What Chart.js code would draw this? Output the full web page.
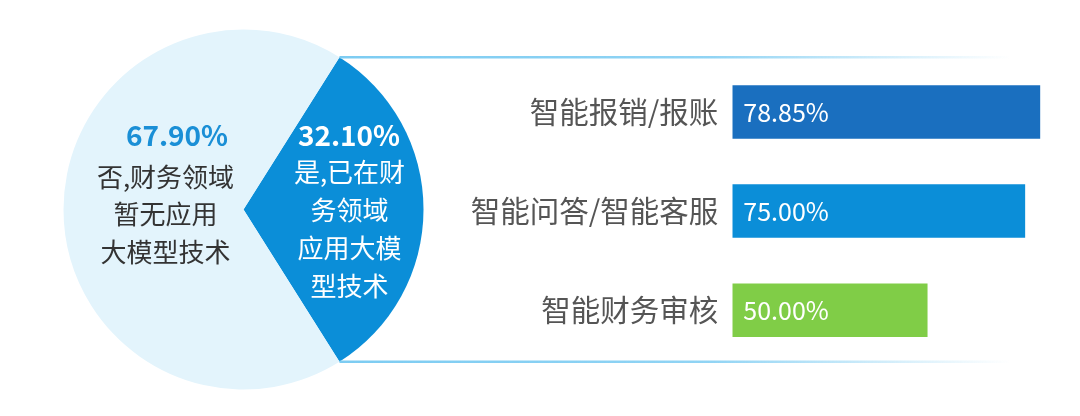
<!DOCTYPE html>
<html>
<head>
<meta charset="utf-8">
<script src="https://cdn.jsdelivr.net/npm/chart.js@4.4.1/dist/chart.umd.min.js"></script>
<style>
  html, body { margin: 0; padding: 0; background: #fff; }
  #wrap { position: relative; width: 1080px; height: 416px; overflow: hidden; }
  #pieChart { position: absolute; left: 0; top: 0; }
  #barChart { position: absolute; left: 440px; top: 0; }
</style>
</head>
<body>
<div id="wrap">
  <canvas id="pieChart" width="1080" height="416"></canvas>
  <canvas id="barChart" width="640" height="416"></canvas>
</div>
<script>
'use strict';

// pie: large models already used in finance?
var pieLabels = ["是,已在财务领域应用大模型技术", "否,财务领域暂无应用大模型技术"];
var pieValues = [32.10, 67.90];
var pieLines = [
  ["是,已在财", "务领域", "应用大模", "型技术"],
  ["否,财务领域", "暂无应用", "大模型技术"]
];
var pieColors = ["#0b8ed8", "#e3f4fc"];

// bars: where it is used
var barLabels = ["智能报销/报账", "智能问答/智能客服", "智能财务审核"];
var barValues = [78.85, 75.00, 50.00];
var barColors = ["#1a6fbf", "#0b8ed8", "#80cd47"];

var FONT = '"Noto Sans CJK SC", "Noto Sans", sans-serif';

function pct(v) { return v.toFixed(2) + '%'; }

// connector lines + texts inside the slices
var pieText = {
  id: 'pieText',
  afterDatasetsDraw: function(chart) {
    var ctx = chart.ctx;
    var arc = chart.getDatasetMeta(0).data[0];
    var cx = arc.x, cy = arc.y, r = arc.outerRadius;

    var corners = [arc.startAngle, arc.endAngle].map(function(a) {
      return [cx + r * Math.cos(a), cy + r * Math.sin(a)];
    });
    var grad = ctx.createLinearGradient(corners[0][0], 0, 1010, 0);
    grad.addColorStop(0, 'rgba(125,204,242,1)');
    grad.addColorStop(0.55, 'rgba(125,204,242,0.85)');
    grad.addColorStop(1, 'rgba(125,204,242,0)');
    ctx.save();
    ctx.strokeStyle = grad;
    ctx.lineWidth = 2.5;
    corners.forEach(function(p) {
      ctx.beginPath();
      ctx.moveTo(p[0], p[1]);
      ctx.lineTo(1010, p[1]);
      ctx.stroke();
    });

    ctx.textAlign = 'center';
    ctx.textBaseline = 'middle';
    // dark slice
    ctx.fillStyle = '#fff';
    ctx.font = 'bold 28px ' + FONT;
    ctx.fillText(pct(pieValues[0]), cx + 105.5, cy - 74.5);
    ctx.font = '26px ' + FONT;
    pieLines[0].forEach(function(t, i) {
      ctx.fillText(t, cx + 106, cy - 37.8 + i * 38.2);
    });
    // light slice
    ctx.fillStyle = '#1a8fd6';
    ctx.font = 'bold 28px ' + FONT;
    ctx.fillText(pct(pieValues[1]), cx - 66.5, cy - 74.5);
    ctx.fillStyle = '#333';
    ctx.font = '26px ' + FONT;
    pieLines[1].forEach(function(t, i) {
      ctx.fillText(t, cx - 78, cy - 32.8 + i * 37.8);
    });
    ctx.restore();
  }
};

var piePlot = new Chart("pieChart", {
  type: "pie",
  data: {
    labels: pieLabels,
    datasets: [{
      data: pieValues,
      backgroundColor: pieColors,
      borderWidth: 0,
      hoverOffset: 0
    }]
  },
  options: {
    responsive: false,
    animation: false,
    events: [],
    // dark slice centred on 3 o'clock
    rotation: 90 - pieValues[0] / (pieValues[0] + pieValues[1]) * 180,
    layout: { padding: { left: 63.5, right: 656.5, top: 29.5, bottom: 26.5 } },
    plugins: { legend: { display: false }, tooltip: { enabled: false } }
  },
  plugins: [pieText]
});

// value text inside each bar
var barText = {
  id: 'barText',
  afterDatasetsDraw: function(chart) {
    var ctx = chart.ctx;
    ctx.save();
    ctx.fillStyle = '#fff';
    ctx.font = '25px ' + FONT;
    ctx.textAlign = 'left';
    ctx.textBaseline = 'middle';
    chart.getDatasetMeta(0).data.forEach(function(bar, i) {
      ctx.fillText(pct(barValues[i]), bar.base + 11, bar.y);
    });
    ctx.restore();
  }
};

var barPlot = new Chart("barChart", {
  type: "bar",
  data: {
    labels: barLabels,
    datasets: [{
      data: barValues,
      backgroundColor: barColors,
      borderWidth: 0,
      barPercentage: 0.54,
      categoryPercentage: 1
    }]
  },
  options: {
    indexAxis: 'y',
    responsive: false,
    animation: false,
    events: [],
    layout: { padding: { left: 0, right: 15.8, top: 62.5, bottom: 56.3 } },
    plugins: { legend: { display: false }, tooltip: { enabled: false } },
    scales: {
      x: { display: false, min: 0, max: 85 },
      y: {
        grid: { display: false, drawTicks: false },
        border: { display: false },
        ticks: { color: '#555', font: { family: FONT, size: 29.5 }, padding: 14 },
        afterFit: function(scale) { scale.width = 292.3; }
      }
    }
  },
  plugins: [barText]
});
</script>
</body>
</html>
